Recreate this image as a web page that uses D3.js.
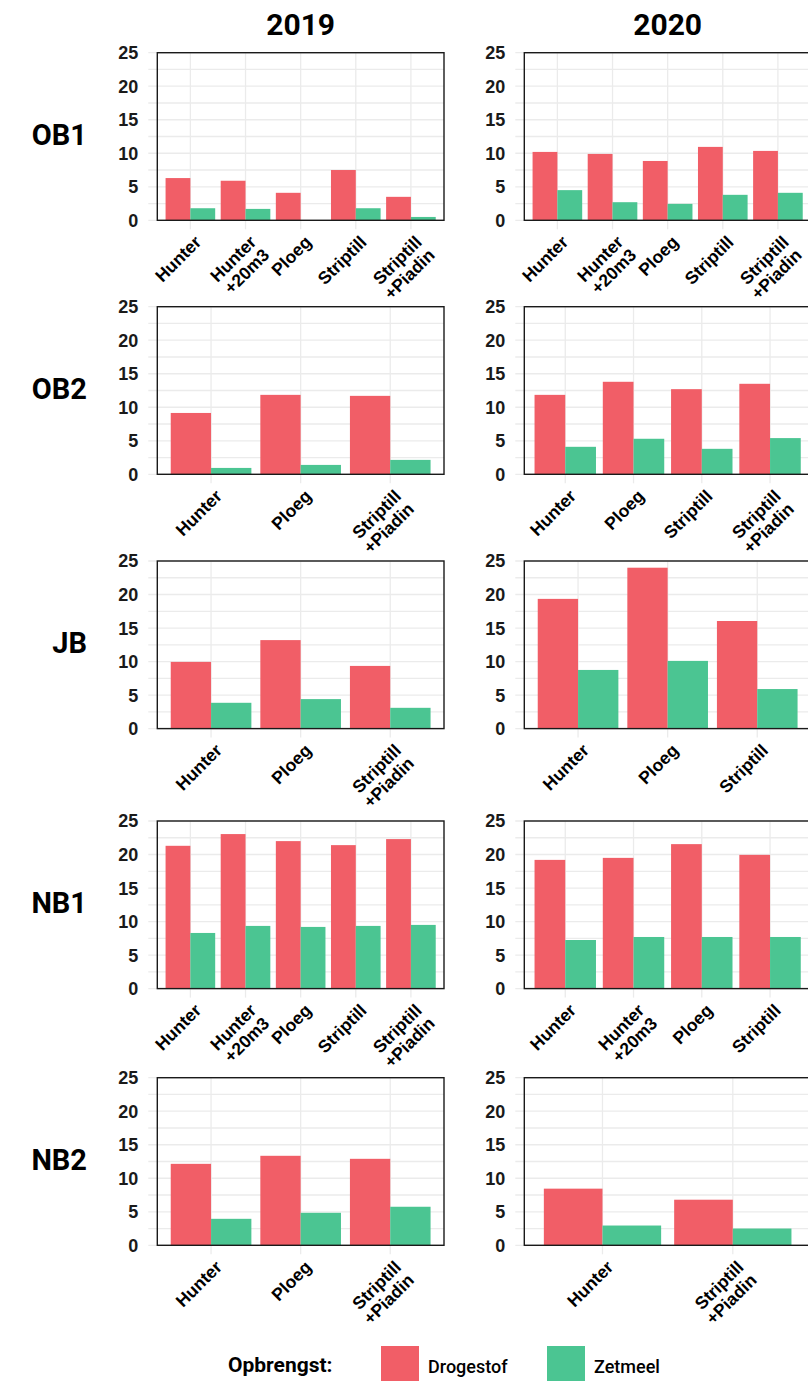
<!DOCTYPE html>
<html>
<head>
<meta charset="utf-8">
<title>Opbrengst</title>
<script src="https://cdn.jsdelivr.net/npm/d3@7"></script>
<style>
  body { margin: 0; background: #fff; }
</style>
</head>
<body>
<svg id="svg"></svg>
<script>
var WIDTH = 808;
var HEIGHT = 1381;

// data
var rowNames = ["OB1", "OB2", "JB", "NB1", "NB2"];
var yearNames = ["2019", "2020"];
var seriesNames = ["Drogestof", "Zetmeel"];
var yTicks = [0, 5, 10, 15, 20, 25];
var yMinor = [2.5, 7.5, 12.5, 17.5, 22.5];

var cat_OB1_2019 = ["Hunter", "Hunter\n+20m3", "Ploeg", "Striptill", "Striptill\n+Piadin"];
var drog_OB1_2019 = [6.3, 5.9, 4.1, 7.5, 3.5];
var zet_OB1_2019 = [1.8, 1.7, 0, 1.8, 0.5];

var cat_OB1_2020 = ["Hunter", "Hunter\n+20m3", "Ploeg", "Striptill", "Striptill\n+Piadin"];
var drog_OB1_2020 = [10.2, 9.9, 8.85, 10.95, 10.35];
var zet_OB1_2020 = [4.5, 2.7, 2.45, 3.8, 4.1];

var cat_OB2_2019 = ["Hunter", "Ploeg", "Striptill\n+Piadin"];
var drog_OB2_2019 = [9.15, 11.85, 11.7];
var zet_OB2_2019 = [0.95, 1.4, 2.15];

var cat_OB2_2020 = ["Hunter", "Ploeg", "Striptill", "Striptill\n+Piadin"];
var drog_OB2_2020 = [11.85, 13.8, 12.7, 13.5];
var zet_OB2_2020 = [4.1, 5.3, 3.8, 5.4];

var cat_JB_2019 = ["Hunter", "Ploeg", "Striptill\n+Piadin"];
var drog_JB_2019 = [9.95, 13.2, 9.35];
var zet_JB_2019 = [3.85, 4.4, 3.1];

var cat_JB_2020 = ["Hunter", "Ploeg", "Striptill"];
var drog_JB_2020 = [19.35, 24.0, 16.05];
var zet_JB_2020 = [8.75, 10.1, 5.9];

var cat_NB1_2019 = ["Hunter", "Hunter\n+20m3", "Ploeg", "Striptill", "Striptill\n+Piadin"];
var drog_NB1_2019 = [21.3, 23.05, 22.0, 21.4, 22.3];
var zet_NB1_2019 = [8.3, 9.35, 9.2, 9.35, 9.5];

var cat_NB1_2020 = ["Hunter", "Hunter\n+20m3", "Ploeg", "Striptill"];
var drog_NB1_2020 = [19.2, 19.5, 21.55, 19.95];
var zet_NB1_2020 = [7.25, 7.7, 7.7, 7.7];

var cat_NB2_2019 = ["Hunter", "Ploeg", "Striptill\n+Piadin"];
var drog_NB2_2019 = [12.15, 13.35, 12.9];
var zet_NB2_2019 = [3.95, 4.85, 5.75];

var cat_NB2_2020 = ["Hunter", "Striptill\n+Piadin"];
var drog_NB2_2020 = [8.45, 6.8];
var zet_NB2_2020 = [2.95, 2.5];

var panels = [
    {row: 0, col: 0, cats: cat_OB1_2019, drog: drog_OB1_2019, zet: zet_OB1_2019},
    {row: 0, col: 1, cats: cat_OB1_2020, drog: drog_OB1_2020, zet: zet_OB1_2020},
    {row: 1, col: 0, cats: cat_OB2_2019, drog: drog_OB2_2019, zet: zet_OB2_2019},
    {row: 1, col: 1, cats: cat_OB2_2020, drog: drog_OB2_2020, zet: zet_OB2_2020},
    {row: 2, col: 0, cats: cat_JB_2019, drog: drog_JB_2019, zet: zet_JB_2019},
    {row: 2, col: 1, cats: cat_JB_2020, drog: drog_JB_2020, zet: zet_JB_2020},
    {row: 3, col: 0, cats: cat_NB1_2019, drog: drog_NB1_2019, zet: zet_NB1_2019},
    {row: 3, col: 1, cats: cat_NB1_2020, drog: drog_NB1_2020, zet: zet_NB1_2020},
    {row: 4, col: 0, cats: cat_NB2_2019, drog: drog_NB2_2019, zet: zet_NB2_2019},
    {row: 4, col: 1, cats: cat_NB2_2020, drog: drog_NB2_2020, zet: zet_NB2_2020}
];

// layout
var panelLeft = [157.3, 524.3];
var panelW = 286.7;
var panelTop = [52.7, 306.7, 561, 821, 1077.7];
var panelH = 167.6;
var colors = ["#F15E67", "#4BC592"];
var gridColor = "#EBEBEB";
var tickFont = "'Liberation Sans', Arial, sans-serif";

var svg = d3.select("#svg")
            .attr("width", WIDTH)
            .attr("height", HEIGHT)
            .attr("font-family", tickFont);

// column titles
svg.selectAll("text.coltitle")
   .data(yearNames)
   .enter()
   .append("text")
   .attr("class", "coltitle")
   .attr("x", function(d, i){ return panelLeft[i] + panelW/2; })
   .attr("y", 35)
   .attr("text-anchor", "middle")
   .attr("font-family", "Roboto, sans-serif")
   .attr("font-weight", "bold")
   .attr("font-size", "30px")
   .attr("fill", "#000")
   .text(function(d){ return d; });

// row labels
svg.selectAll("text.rowlabel")
   .data(rowNames)
   .enter()
   .append("text")
   .attr("class", "rowlabel")
   .attr("x", 87)
   .attr("y", function(d, i){ return panelTop[i] + panelH/2 + 8; })
   .attr("text-anchor", "end")
   .attr("font-family", "Roboto, sans-serif")
   .attr("font-weight", "bold")
   .attr("font-size", "29px")
   .attr("fill", "#000")
   .text(function(d){ return d; });

var drawPanel = function(p){
    var x0 = panelLeft[p.col];
    var y0 = panelTop[p.row];
    var g = svg.append("g").attr("transform", "translate(" + x0 + "," + y0 + ")");

    var xScale = d3.scalePoint()
                   .domain(p.cats)
                   .range([0, panelW])
                   .padding(0.6);
    var step = xScale.step();
    var barW = step * 0.9 / 2;
    var yScale = d3.scaleLinear()
                   .domain([0, 25])
                   .range([panelH, 0]);

    // horizontal grid (major + minor) extending as ticks to the left
    g.selectAll("line.hgrid")
     .data(yTicks.concat(yMinor))
     .enter()
     .append("line")
     .attr("x1", -9)
     .attr("x2", panelW)
     .attr("y1", function(d){ return yScale(d); })
     .attr("y2", function(d){ return yScale(d); })
     .attr("stroke", gridColor)
     .attr("stroke-width", 1.3);

    // vertical grid extending as ticks below
    g.selectAll("line.vgrid")
     .data(p.cats)
     .enter()
     .append("line")
     .attr("x1", function(d){ return xScale(d); })
     .attr("x2", function(d){ return xScale(d); })
     .attr("y1", 0)
     .attr("y2", panelH + 9)
     .attr("stroke", gridColor)
     .attr("stroke-width", 1.3);

    // bars
    var series = [p.drog, p.zet];
    series.forEach(function(vals, s){
        g.selectAll("rect.s" + s)
         .data(p.cats)
         .enter()
         .append("rect")
         .attr("class", "s" + s)
         .attr("x", function(d){ return xScale(d) - barW + s * barW; })
         .attr("width", barW)
         .attr("y", function(d, i){ return yScale(vals[i]); })
         .attr("height", function(d, i){ return yScale(0) - yScale(vals[i]); })
         .attr("fill", colors[s]);
    });

    // border
    g.append("rect")
     .attr("x", 0)
     .attr("y", 0)
     .attr("width", panelW)
     .attr("height", panelH)
     .attr("fill", "none")
     .attr("stroke", "#1a1a1a")
     .attr("stroke-width", 1.4);

    // y tick labels
    g.selectAll("text.ylab")
     .data(yTicks)
     .enter()
     .append("text")
     .attr("x", -19)
     .attr("y", function(d){ return yScale(d); })
     .attr("dy", "0.36em")
     .attr("text-anchor", "end")
     .attr("font-weight", "bold")
     .attr("font-size", "18px")
     .attr("fill", "#1a1a1a")
     .text(function(d){ return d; });

    // x tick labels, rotated
    var xl = g.selectAll("text.xlab")
              .data(p.cats)
              .enter()
              .append("text")
              .attr("transform", function(d){
                  return "translate(" + (xScale(d) + 3) + "," + (panelH + 14) + ") rotate(-45)";
              })
              .attr("text-anchor", "end")
              .attr("font-weight", "bold")
              .attr("font-size", "17.5px")
              .attr("fill", "#000");
    xl.each(function(d){
        var lines = d.split("\n");
        var t = d3.select(this);
        lines.forEach(function(line, k){
            t.append("tspan")
             .attr("x", 0)
             .attr("dy", k === 0 ? "0.72em" : "1.05em")
             .text(line);
        });
    });
};

panels.forEach(drawPanel);

// legend
var legendY = 1346;
svg.append("text")
   .attr("x", 228)
   .attr("y", 1372)
   .attr("font-family", "Roboto, sans-serif")
   .attr("font-weight", "bold")
   .attr("font-size", "21px")
   .attr("fill", "#000")
   .text("Opbrengst:");

var legendX = [381, 547];
svg.selectAll("rect.legend")
   .data(seriesNames)
   .enter()
   .append("rect")
   .attr("x", function(d, i){ return legendX[i]; })
   .attr("y", legendY)
   .attr("width", 38)
   .attr("height", 38)
   .attr("fill", function(d, i){ return colors[i]; });

svg.selectAll("text.legend")
   .data(seriesNames)
   .enter()
   .append("text")
   .attr("x", function(d, i){ return legendX[i] + 47; })
   .attr("y", 1373)
   .attr("font-family", "Roboto, sans-serif")
   .attr("font-weight", 500)
   .attr("font-size", "18px")
   .attr("fill", "#000")
   .text(function(d){ return d; });
</script>
</body>
</html>
